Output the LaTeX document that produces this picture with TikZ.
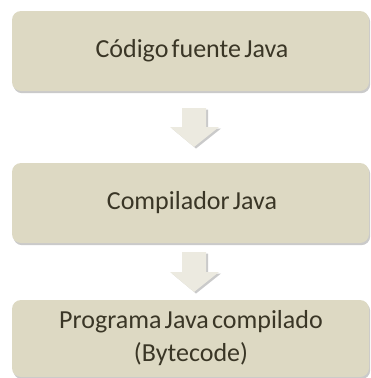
\documentclass[tikz,border=0pt]{standalone}
\usepackage{fontspec}
\setmainfont[WordSpace=0.55]{Carlito}
\usetikzlibrary{shadows}
\definecolor{boxfill}{HTML}{DDD9C3}
\definecolor{arrowfill}{HTML}{ECEAE0}
\definecolor{txt}{HTML}{3A3626}
\tikzset{
  stagebox/.style={draw=none, fill=boxfill, rounded corners=9pt,
    drop shadow={shadow xshift=1.2pt, shadow yshift=-2.2pt, opacity=0.35, fill=black!60}},
  stagetext/.style={text=txt, font=\fontsize{26}{33}\selectfont, align=center},
  flowarrow/.style={fill=arrowfill, draw=none,
    drop shadow={shadow xshift=2pt, shadow yshift=-1.5pt, opacity=0.35, fill=black!60}},
}
\begin{document}
\begin{tikzpicture}[x=1pt,y=-1pt]
\useasboundingbox (0,0) rectangle (370,378);
% boxes
\path[stagebox] (12,11) rectangle (369,91);
\path[stagebox] (12,163) rectangle (369,243);
\path[stagebox] (12,300) rectangle (369,377);
\node[stagetext] (t1) at (192,51) {Código fuente Java};
\node[stagetext] (t2) at (192,203) {Compilador Java};
\node[stagetext] (t3) at (191,338) {Programa Java compilado\\(Bytecode)};
% arrows
\path[flowarrow] (182,108) -- (206,108) -- (206,127) -- (219,127) -- (194,147) -- (170,127) -- (182,127) -- cycle;
\path[flowarrow] (182,252) -- (206,252) -- (206,272) -- (219,272) -- (194,292) -- (170,272) -- (182,272) -- cycle;
\end{tikzpicture}
\end{document}
